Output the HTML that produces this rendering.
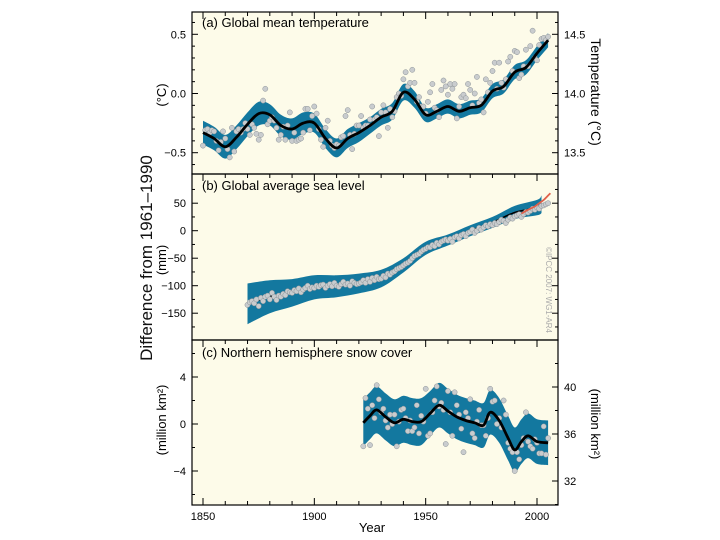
<!DOCTYPE html>
<html><head><meta charset="utf-8">
<style>
html,body{margin:0;padding:0;background:#fff;}
svg{display:block;font-family:"Liberation Sans",sans-serif;}
</style></head>
<body>
<svg id="chart" width="720" height="540" viewBox="0 0 720 540" xmlns="http://www.w3.org/2000/svg">
<rect x="192" y="12" width="366" height="493" fill="#fdfbe9"/>
<g id="marks"></g>
<g id="axes"></g>
<text transform="translate(152,258) rotate(-90)" text-anchor="middle" font-size="17" fill="#111">Difference from 1961–1990</text>
<text transform="translate(166,95) rotate(-90)" text-anchor="middle" font-size="13">(°C)</text>
<text transform="translate(166,260) rotate(-90)" text-anchor="middle" font-size="13">(mm)</text>
<text transform="translate(166,420) rotate(-90)" text-anchor="middle" font-size="13">(million km²)</text>
<text transform="translate(591,92) rotate(90)" text-anchor="middle" font-size="14">Temperature (°C)</text>
<text transform="translate(591,424) rotate(90)" text-anchor="middle" font-size="13">(million km²)</text>
<text x="372" y="532" text-anchor="middle" font-size="13">Year</text>
<text x="202" y="27" font-size="13">(a) Global mean temperature</text>
<text x="202" y="190" font-size="13">(b) Global average sea level</text>
<text x="202" y="357" font-size="13">(c) Northern hemisphere snow cover</text>
<text transform="translate(546,290) rotate(90)" text-anchor="middle" font-size="8" fill="#aaa">©IPCC 2007: WG1-AR4</text>
</svg>
<script>
// ---- Data ----
const tempSmoothYears=[1850,1855,1860,1865,1870,1875,1880,1885,1890,1895,1900,1905,1910,1915,1920,1925,1930,1935,1940,1945,1950,1955,1960,1965,1970,1975,1980,1985,1990,1995,2000,2005];
const tempSmooth=[-0.33,-0.38,-0.45,-0.37,-0.26,-0.17,-0.18,-0.27,-0.30,-0.25,-0.25,-0.38,-0.46,-0.38,-0.33,-0.27,-0.20,-0.15,0.01,-0.05,-0.18,-0.15,-0.11,-0.15,-0.12,-0.10,0.02,0.06,0.18,0.22,0.34,0.45];
const tempHalf=[0.10,0.10,0.10,0.10,0.10,0.10,0.09,0.09,0.09,0.09,0.08,0.08,0.08,0.08,0.08,0.07,0.07,0.07,0.07,0.07,0.06,0.06,0.06,0.06,0.06,0.06,0.06,0.06,0.06,0.06,0.06,0.06];
const tempAnnual=[-0.44,-0.31,-0.30,-0.33,-0.31,-0.32,-0.40,-0.48,-0.41,-0.32,-0.38,-0.47,-0.54,-0.29,-0.49,-0.32,-0.30,-0.33,-0.30,-0.25,-0.30,-0.35,-0.26,-0.29,-0.34,-0.39,-0.35,-0.06,0.04,-0.26,-0.23,-0.20,-0.23,-0.29,-0.39,-0.35,-0.28,-0.39,-0.27,-0.16,-0.40,-0.33,-0.40,-0.39,-0.38,-0.33,-0.13,-0.13,-0.31,-0.19,-0.11,-0.17,-0.30,-0.39,-0.45,-0.29,-0.23,-0.40,-0.44,-0.46,-0.43,-0.44,-0.37,-0.36,-0.19,-0.14,-0.35,-0.47,-0.34,-0.27,-0.27,-0.19,-0.29,-0.27,-0.27,-0.22,-0.11,-0.22,-0.20,-0.36,-0.16,-0.10,-0.16,-0.29,-0.13,-0.20,-0.15,-0.03,0.00,-0.02,0.12,0.18,0.06,0.09,0.20,0.09,-0.07,-0.03,-0.11,-0.11,-0.17,-0.07,0.01,0.08,-0.12,-0.14,-0.20,0.03,0.11,0.06,-0.01,0.08,0.04,0.08,-0.21,-0.11,-0.03,-0.01,-0.04,0.08,0.03,-0.10,0.00,0.14,-0.08,-0.05,-0.16,0.12,0.01,0.09,0.19,0.26,0.04,0.26,0.09,0.05,0.12,0.27,0.31,0.19,0.36,0.35,0.13,0.16,0.23,0.37,0.23,0.40,0.53,0.30,0.28,0.41,0.46,0.47,0.45,0.48];
const tempStart=1850;

const seaSmoothYears=[1870,1880,1890,1900,1910,1920,1930,1940,1950,1960,1970,1980,1990,2000,2002];
const seaSmooth=[-133,-120,-113,-103,-101,-96,-87,-63,-32,-17,0,15,33,42,48];
const seaHalf=[37,30,25,22,20,18,16,13,12,10,10,10,12,14,16];
const seaAnnual=[-135,-130,-128,-132,-125,-137,-122,-128,-120,-118,-125,-113,-120,-126,-118,-120,-115,-117,-110,-112,-113,-108,-110,-105,-112,-107,-104,-100,-106,-103,-104,-100,-102,-99,-98,-104,-100,-97,-101,-95,-100,-102,-97,-93,-98,-96,-100,-92,-95,-97,-96,-94,-90,-95,-88,-93,-86,-90,-84,-88,-87,-82,-85,-78,-80,-76,-74,-70,-68,-66,-63,-60,-58,-55,-50,-46,-44,-42,-38,-35,-33,-30,-30,-26,-28,-22,-25,-20,-18,-16,-18,-15,-20,-12,-10,-14,-8,-6,-10,-4,-2,2,-4,0,5,2,6,10,8,12,10,14,12,16,20,18,14,20,24,22,26,28,30,25,30,34,33,36,40,38,42,40,45,46,48,50];
const seaStart=1870;
const satYears=[1993,1995,1997,1999,2001,2003,2005,2006];
const satValues=[31,36,40,44,50,56,64,68];

const snowSmoothYears=[1922,1925,1928,1932,1936,1940,1944,1948,1952,1956,1960,1964,1968,1972,1976,1979,1983,1987,1990,1993,1996,2000,2005];
const snowSmooth=[0.1,0.7,1.2,0.6,0.1,0.4,0.2,0.2,0.9,1.6,1.1,0.6,0.3,0.1,-0.1,1.0,0.3,-1.2,-2.2,-1.5,-1.0,-1.5,-1.6];
const snowHalf=[2.0,2.0,2.0,2.0,2.0,2.0,2.0,2.0,1.9,1.9,1.9,1.9,1.9,1.9,1.9,1.9,1.9,1.9,1.9,1.9,1.9,1.9,1.9];
const snowAnnual=[-1.9,2.2,1.3,-1.8,1.6,0.5,3.3,2.1,1.0,1.3,0.3,-0.3,0.8,0.0,0.8,-1.9,0.2,1.2,1.3,0.5,-0.6,0.3,-0.6,-0.3,1.6,-0.8,0.7,0.2,3.0,-1.0,-0.8,1.0,2.0,3.2,1.5,1.8,1.2,-1.7,2.8,1.0,-1.0,2.7,1.6,0.8,-0.4,-2.4,1.0,0.5,2.1,-0.8,-1.2,0.2,1.2,-0.1,-0.1,-1.0,0.5,3.0,1.9,2.0,0.0,0.5,-0.3,2.0,0.8,-1.6,-2.1,-2.4,-4.0,-2.4,-3.0,-1.8,-1.2,1.0,-1.5,-1.9,-2.1,-1.3,-1.6,-2.5,-2.5,-0.2,-2.6,-1.2];
const snowStart=1922;

const xTicks=[1850,1900,1950,2000];
const tempTicks=[-0.5,0.0,0.5];
const tempTickLabels=["−0.5","0.0","0.5"];
const tempRightTicks=[13.5,14.0,14.5];
const seaTicks=[-150,-100,-50,0,50];
const seaTickLabels=["−150","−100","−50","0","50"];
const snowTicks=[-4,0,4];
const snowTickLabels=["−4","0","4"];
const snowRightTicks=[32,36,40];

// ---- Scales ----
const L=192,R=558;
const X=yr=>203+(yr-1850)*2.2267;
const Ya=v=>93.5-v*118.4;
const YaR=t=>Ya(t-14.0);
const Yb=v=>230.7-v*0.55;
const Yc=v=>424-v*11.75;
const YcR=v=>387+(40-v)*11.75;

const NS="http://www.w3.org/2000/svg";
const marks=document.getElementById('marks');
const axes=document.getElementById('axes');
function mk(tag,attrs,parent){const e=document.createElementNS(NS,tag);for(const k in attrs)e.setAttribute(k,attrs[k]);(parent||marks).appendChild(e);return e;}

function smoothPath(pts){
  let d="M"+pts[0][0].toFixed(1)+","+pts[0][1].toFixed(1);
  for(let i=0;i<pts.length-1;i++){
    const p0=pts[Math.max(0,i-1)],p1=pts[i],p2=pts[i+1],p3=pts[Math.min(pts.length-1,i+2)];
    const c1=[p1[0]+(p2[0]-p0[0])/6,p1[1]+(p2[1]-p0[1])/6];
    const c2=[p2[0]-(p3[0]-p1[0])/6,p2[1]-(p3[1]-p1[1])/6];
    d+=" C"+c1[0].toFixed(1)+","+c1[1].toFixed(1)+" "+c2[0].toFixed(1)+","+c2[1].toFixed(1)+" "+p2[0].toFixed(1)+","+p2[1].toFixed(1);
  }
  return d;
}
function bandPath(years,vals,half,Y){
  const up=years.map((y,i)=>[X(y),Y(vals[i]+half[i])]);
  const dn=years.map((y,i)=>[X(y),Y(vals[i]-half[i])]).reverse();
  const du=smoothPath(up), dd=smoothPath(dn).replace(/^M/,"L");
  return du+" "+dd+" Z";
}
function drawPanel(name,years,vals,half,annual,start,Y,lineW,lineFirst){
  const band=mk('path',{d:bandPath(years,vals,half,Y),fill:'#13789f'});
  
  
  const drawLine=()=>{
    const line=mk('path',{d:smoothPath(years.map((y,i)=>[X(y),Y(vals[i])])),fill:'none',stroke:'#000','stroke-width':lineW});
    
    
  };
  if(lineFirst) drawLine();
  annual.forEach((v,i)=>{
    const c=mk('circle',{cx:X(start+i).toFixed(1),cy:Y(v).toFixed(1),r:2.6,fill:'#c9ccce',stroke:'#8a9196','stroke-width':0.5});
    
    
  });
  if(!lineFirst) drawLine();
}
drawPanel('temperature',tempSmoothYears,tempSmooth,tempHalf,tempAnnual,tempStart,Ya,2.8,false);
drawPanel('sea-level',seaSmoothYears,seaSmooth,seaHalf,seaAnnual,seaStart,Yb,1.6,true);
const sat=mk('path',{d:smoothPath(satYears.map((y,i)=>[X(y),Yb(satValues[i])])),fill:'none',stroke:'#e0604a','stroke-width':1.8});


drawPanel('snow-cover',snowSmoothYears,snowSmooth,snowHalf,snowAnnual,snowStart,Yc,2.8,false);

// ---- Axes ----
const panels=[[12,174],[174,340],[340,505]];
panels.forEach((p,i)=>{
  const r=mk('rect',{x:L,y:p[0],width:R-L,height:p[1]-p[0],fill:'none',stroke:'#000','stroke-width':1.2},axes);
  
  
  for(let yr=1850;yr<=2000;yr+=10){
    const len=(yr%50===0)?7:4;
    const t=mk('line',{x1:X(yr),x2:X(yr),y1:p[0],y2:p[0]+len,stroke:'#000','stroke-width':1},axes);
    
    
  }
});
for(let yr=1850;yr<=2000;yr+=10){
  const len=(yr%50===0)?7:4;
  const t=mk('line',{x1:X(yr),x2:X(yr),y1:505,y2:505-len,stroke:'#000','stroke-width':1},axes);
  
  
}
xTicks.forEach(yr=>{
  const t=mk('text',{x:X(yr),y:520,'text-anchor':'middle','font-size':11},axes);
  t.textContent=yr;
  
  
});
function yTicks(vals,labels,Y,side,minorStep,lo,hi){
  for(let v=lo;v<=hi+1e-9;v+=minorStep){
    const y=Y(v);const major=vals.some(m=>Math.abs(m-v)<1e-6);const len=major?6:3;
    const x0=side==='L'?L:R, x1=side==='L'?L+len:R-len;
    const t=mk('line',{x1:x0,x2:x1,y1:y,y2:y,stroke:'#000','stroke-width':1},axes);
    
    
  }
  vals.forEach((v,i)=>{
    const t=mk('text',{x:side==='L'?L-6:R+6,y:Y(v)+4,'text-anchor':side==='L'?'end':'start','font-size':11},axes);
    t.textContent=labels[i];
    
    
  });
}
yTicks(tempTicks,tempTickLabels,Ya,'L',0.1,-0.6,0.6);
yTicks(tempRightTicks,["13.5","14.0","14.5"],YaR,'R',0.1,13.4,14.6);
yTicks(seaTicks,seaTickLabels,Yb,'L',25,-175,75);
yTicks(seaTicks,seaTicks.map(()=>""),Yb,'R',25,-175,75);
yTicks(snowTicks,snowTickLabels,Yc,'L',2,-6,6);
yTicks(snowRightTicks,["32","36","40"],YcR,'R',2,30,42);
</script>
</body></html>
